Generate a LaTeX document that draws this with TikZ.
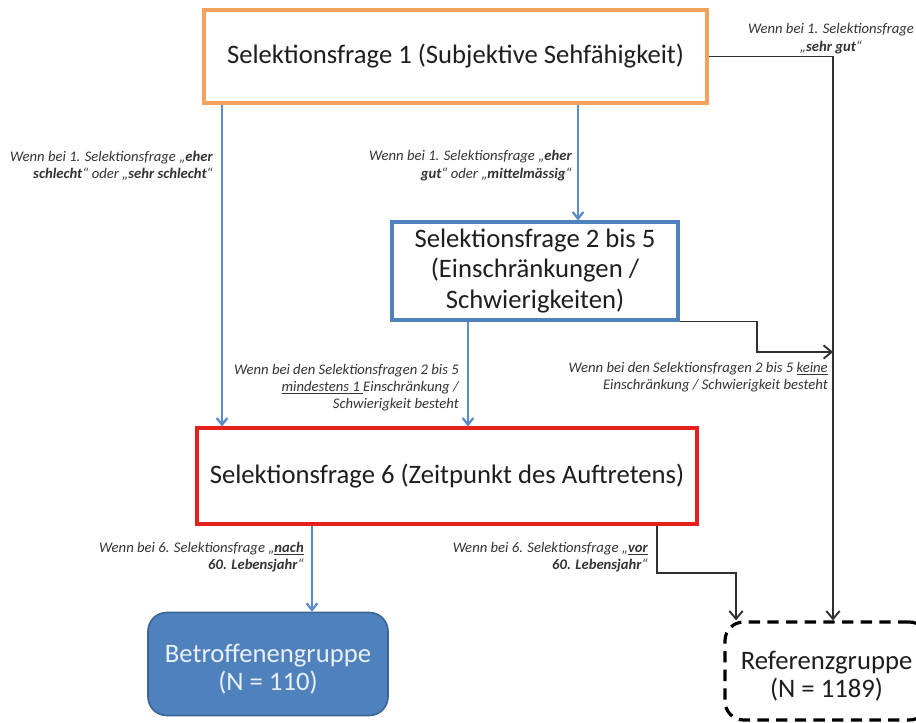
\documentclass[tikz,border=0pt]{standalone}
\usepackage{fontspec}
\setmainfont{Carlito}
\usetikzlibrary{arrows.meta}
\definecolor{orangeB}{HTML}{F5A35C}
\definecolor{blueB}{HTML}{4F81BD}
\definecolor{blueA}{HTML}{5B8BC9}
\definecolor{redB}{HTML}{E3201C}
\definecolor{fillB}{HTML}{4F81BD}
\definecolor{edgeB}{HTML}{3A6696}
\definecolor{txt}{HTML}{1E1E1E}
\definecolor{lbl}{HTML}{333333}
\definecolor{conn}{HTML}{303030}
\tikzset{
  mainbox/.style={draw, line width=2.3pt, fill=white, text=txt, align=center,
    font=\fontsize{20}{23}\selectfont, inner sep=0pt},
  groupbox/.style={rounded corners=14pt, inner sep=0pt},
  grouptext/.style={align=center, inner sep=0pt, font=\fontsize{20}{21}\selectfont},
  lab/.style={font=\fontsize{11}{13}\selectfont\itshape, text=lbl, inner sep=0pt},
  bluearrow/.style={draw=blueA, line width=1.7pt, -{Straight Barb[length=5pt,width=8pt]}},
  blackarrow/.style={draw=conn, line width=1.1pt, -{Straight Barb[length=6pt,width=10pt,line width=1.4pt]}}
}
\begin{document}
\begin{tikzpicture}[x=0.75pt,y=-0.75pt]
\clip (0,0) rectangle (916,723);
\fill[white] (0,0) rectangle (916,723);

% boxes
\node[mainbox, draw=orangeB, minimum width=377.25pt, minimum height=69.75pt] (b1) at (455.5,56.5)
  {Selektionsfrage 1 (Subjektive Sehfähigkeit)};
\node[mainbox, draw=blueB, minimum width=214.5pt, minimum height=73.5pt] (b2) at (535,271)
  {Selektionsfrage 2 bis 5\\(Einschränkungen /\\Schwierigkeiten)};
\node[mainbox, draw=redB, minimum width=375pt, minimum height=72pt] (b3) at (447,476)
  {Selektionsfrage 6 (Zeitpunkt des Auftretens)};
\node[groupbox, fill=fillB, draw=edgeB, line width=1.2pt,
  minimum width=180pt, minimum height=77.25pt] (betr) at (268,664) {};
\node[grouptext, text=white!88!blueB] (betrT) at (268,669) {Betroffenengruppe\\(N = 110)};
\node[groupbox, draw=black, line width=2.4pt, dash pattern=on 8.5pt off 5.5pt,
  minimum width=152.25pt, minimum height=73.5pt] (ref) at (826.5,671) {};
\node[grouptext, text=txt] (refT) at (826.5,676) {Referenzgruppe\\(N = 1189)};

% helper coordinates
\coordinate (xA) at (222,0);
\coordinate (xC) at (578,0);
\coordinate (xD) at (468,0);
\coordinate (xB) at (312,0);
\coordinate (xR) at (833,0);
\coordinate (xV) at (657,0);
\coordinate (k2) at (757,352);
\coordinate (m3) at (736,573);

% blue connectors
\draw[bluearrow] (b1.south -| xA) -- (b3.north -| xA);
\draw[bluearrow] (b1.south -| xC) -- (b2.north -| xC);
\draw[bluearrow] (b2.south -| xD) -- (b3.north -| xD);
\draw[bluearrow] (b3.south -| xB) -- (betr.north -| xB);

% black connectors
\draw[blackarrow] (b1.east) -| (xR |- ref.north);
\draw[blackarrow] (b2.south east) -| (k2) -- (k2 -| xR);
\draw[blackarrow] (b3.south -| xV) |- (m3) -- (m3 |- ref.north);

% labels
\node[lab, anchor=east, align=right] (lA) at (213,165.5)
  {Wenn bei 1. Selektionsfrage „\textbf{eher}\\\textbf{schlecht}“ oder „\textbf{sehr schlecht}“};
\node[lab, anchor=east, align=right] (lB) at (572,165.5)
  {Wenn bei 1. Selektionsfrage „\textbf{eher}\\\textbf{gut}“ oder „\textbf{mittelmässig}“};
\node[lab, anchor=center, align=center] (lC) at (831,38.5)
  {Wenn bei 1. Selektionsfrage\\„\textbf{sehr gut}“};
\node[lab, anchor=east, align=right] (lD) at (459,387.5)
  {Wenn bei den Selektionsfragen 2 bis 5\\\underline{mindestens 1 }Einschränkung /\\Schwierigkeit besteht};
\node[lab, anchor=east, align=right] (lE) at (828,377)
  {Wenn bei den Selektionsfragen 2 bis 5 \underline{keine}\\Einschränkung / Schwierigkeit besteht};
\node[lab, anchor=east, align=right] (lF) at (304,557)
  {Wenn bei 6. Selektionsfrage „\underline{\textbf{nach}}\\\textbf{60. Lebensjahr}“};
\node[lab, anchor=east, align=right] (lG) at (648,557)
  {Wenn bei 6. Selektionsfrage „\underline{\textbf{vor}}\\\textbf{60. Lebensjahr}“};
\end{tikzpicture}
\end{document}
